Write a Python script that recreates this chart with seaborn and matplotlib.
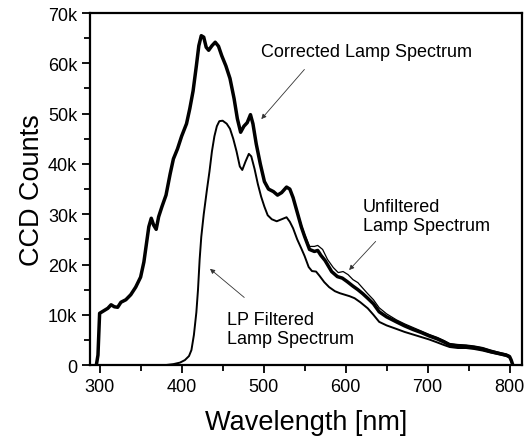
import numpy as np
import pandas as pd
import seaborn as sns
import matplotlib
matplotlib.use("Agg")
import matplotlib.pyplot as plt
from matplotlib.ticker import MultipleLocator

# corrected lamp spectrum (thick line), counts in units of 1k
corr_wl = [296, 298, 300, 305, 310, 314, 318, 322, 326, 332, 338, 344, 350, 354, 357, 360,
           363, 366, 369, 372, 376, 381, 386, 390, 395, 400, 406, 410, 414, 418, 421, 424,
           427, 430, 433, 437, 441, 445, 449, 454, 459, 464, 468, 472, 476, 480, 484, 487,
           491, 496, 501, 506, 512, 517, 522, 528, 532, 536, 541, 546, 550, 556, 562, 566,
           570, 575, 583, 590, 596, 602, 609, 615, 621, 627, 634, 641, 650, 662, 672, 682,
           692, 702, 712, 720, 727, 737, 747, 757, 767, 777, 788, 796, 800, 802, 804]
corr_k = [0.0, 2.0, 10.3, 10.8, 11.3, 12.0, 11.6, 11.5, 12.5, 13.0, 14.0, 15.5, 17.5, 20.5, 24.0, 27.5,
          29.2, 27.8, 27.0, 29.5, 31.5, 33.8, 38.0, 41.0, 43.0, 45.5, 48.0, 51.0, 54.5, 59.5, 63.5, 65.5,
          65.2, 63.2, 62.6, 63.5, 64.2, 63.4, 61.5, 59.5, 57.0, 53.0, 49.0, 46.3, 47.5, 48.2, 49.8, 48.0,
          44.0, 40.0, 36.5, 35.0, 34.5, 33.8, 34.3, 35.4, 35.0, 33.3, 30.4, 27.5, 25.6, 23.0, 22.6, 22.8,
          21.8, 20.8, 18.6, 17.6, 17.3, 16.6, 15.7, 15.0, 14.2, 13.3, 12.2, 10.6, 9.6, 8.6, 7.8, 7.1,
          6.5, 5.8, 5.2, 4.6, 4.0, 3.8, 3.7, 3.5, 3.2, 2.7, 2.3, 2.0, 1.7, 1.0, 0.0]

# unfiltered lamp spectrum (thin line, coincides with corrected below ~540 nm)
unf_wl = [528, 532, 536, 541, 546, 550, 556, 562, 566, 572, 578, 585, 591, 597, 603, 609,
          615, 621, 627, 634, 641, 650, 662, 672, 682, 692, 702, 712, 720, 727, 737, 747,
          757, 767, 777, 788, 796, 800, 802, 804]
unf_k = [35.4, 35.0, 33.4, 30.6, 27.9, 26.0, 23.6, 23.6, 23.8, 23.0, 21.0, 19.4, 18.4, 18.6, 18.0, 17.0,
         16.4, 15.3, 14.2, 13.0, 11.4, 10.2, 9.0, 8.2, 7.5, 6.8, 6.1, 5.5, 4.9, 4.3, 4.1, 4.0,
         3.8, 3.5, 3.0, 2.5, 2.2, 1.9, 1.0, 0.0]

# long-pass filtered lamp spectrum
lp_wl = [296, 380, 390, 398, 404, 409, 412, 415, 418, 420, 422, 424, 427, 431, 434, 437,
         440, 443, 446, 450, 455, 459, 463, 467, 471, 474, 478, 482, 485, 489, 493, 497,
         501, 505, 510, 516, 522, 528, 532, 536, 541, 546, 550, 555, 559, 564, 568, 574,
         580, 587, 593, 599, 605, 611, 618, 627, 634, 641, 650, 662, 672, 682, 692, 702,
         712, 720, 727, 737, 747, 757, 767, 777, 788, 796, 800, 802, 804]
lp_k = [0.0, 0.0, 0.2, 0.5, 1.0, 1.8, 3.0, 6.0, 10.5, 15.0, 21.0, 25.5, 30.0, 35.0, 38.5, 42.5,
        45.5, 47.5, 48.5, 48.6, 48.0, 47.0, 45.0, 42.5, 39.5, 38.8, 40.5, 42.0, 41.5, 39.0, 36.0, 33.5,
        31.5, 29.8, 29.0, 28.6, 29.0, 29.4, 28.5, 27.2, 25.0, 23.2, 21.7, 19.5, 18.7, 18.6, 17.8, 16.5,
        15.5, 14.7, 14.3, 14.0, 13.7, 13.3, 12.5, 11.3, 10.0, 8.6, 7.9, 7.2, 6.6, 6.1, 5.6, 5.1,
        4.5, 4.0, 3.6, 3.4, 3.4, 3.2, 2.9, 2.5, 2.1, 1.8, 1.5, 0.8, 0.0]

xticks = [300, 400, 500, 600, 700, 800]
yticks = [0, 10000, 20000, 30000, 40000, 50000, 60000, 70000]
ytick_labels = ["0", "10k", "20k", "30k", "40k", "50k", "60k", "70k"]

sns.set_style("ticks")
plt.rcParams['font.family'] = ['Liberation Sans', 'DejaVu Sans']
plt.rcParams['text.color'] = 'black'
plt.rcParams['axes.labelcolor'] = 'black'
plt.rcParams['xtick.color'] = 'black'
plt.rcParams['ytick.color'] = 'black'

fig = plt.figure(figsize=(5.25, 4.39), dpi=100)
ax = fig.add_axes([0.171, 0.166, 0.823, 0.802])

sns.lineplot(x=unf_wl, y=np.array(unf_k) * 1000, ax=ax, color="black", lw=0.9, sort=False)
sns.lineplot(x=lp_wl, y=np.array(lp_k) * 1000, ax=ax, color="black", lw=1.4, sort=False)
sns.lineplot(x=corr_wl, y=np.array(corr_k) * 1000, ax=ax, color="black", lw=2.5, sort=False)

ax.set_xlim(288, 815)
ax.set_ylim(0, 70000)
ax.set_xticks(xticks)
ax.set_yticks(yticks)
ax.set_yticklabels(ytick_labels)
ax.xaxis.set_minor_locator(MultipleLocator(50))
ax.yaxis.set_minor_locator(MultipleLocator(5000))
ax.tick_params(which="major", direction="out", length=6, width=1.3, labelsize=13, pad=3)
ax.tick_params(which="minor", direction="out", length=4, width=1.3)
for s in ax.spines.values():
    s.set_linewidth(1.6)
    s.set_color("black")

ax.set_xlabel("Wavelength [nm]", fontsize=19.5, labelpad=10)
ax.set_ylabel("CCD Counts", fontsize=19.5, labelpad=2)

arrow = dict(arrowstyle="-|>", color="#333333", lw=0.6, mutation_scale=7)
ax.text(626, 62400, "Corrected Lamp Spectrum", fontsize=13, ha="center", va="center")
ax.annotate("", xy=(495, 48500), xytext=(552, 59200), arrowprops=arrow)
ax.text(621, 29600, "Unfiltered\nLamp Spectrum", fontsize=13, ha="left", va="center", linespacing=1.15)
ax.annotate("", xy=(602, 18500), xytext=(639, 25000), arrowprops=arrow)
ax.text(455, 7250, "LP Filtered\nLamp Spectrum", fontsize=13, ha="left", va="center", linespacing=1.15)
ax.annotate("", xy=(432, 19500), xytext=(479, 13100), arrowprops=arrow)

fig.savefig("out.png", dpi=100)
